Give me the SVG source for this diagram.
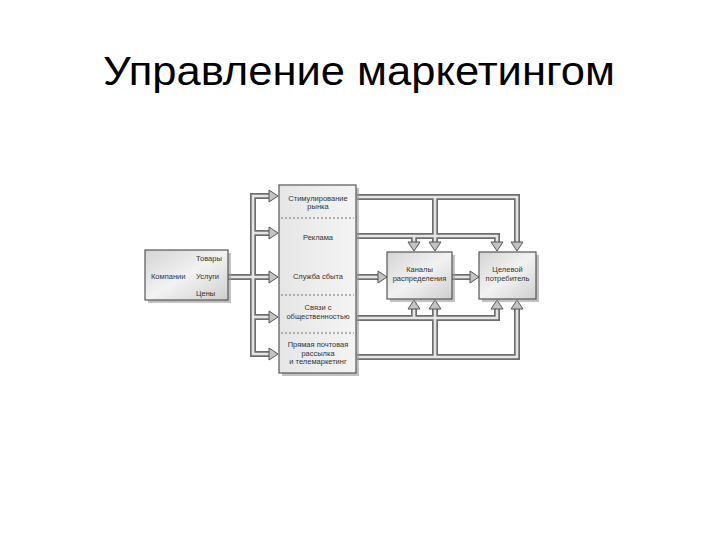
<svg xmlns="http://www.w3.org/2000/svg" width="720" height="540" viewBox="0 0 720 540">
<defs>
<linearGradient id="bg" x1="0" y1="0" x2="1" y2="1">
<stop offset="0" stop-color="#d4d4d4"/>
<stop offset="0.5" stop-color="#f2f2f2"/>
<stop offset="1" stop-color="#cfcfcf"/>
</linearGradient>
<linearGradient id="tg" x1="0" y1="0" x2="1" y2="0">
<stop offset="0" stop-color="#e6e6e6"/>
<stop offset="1" stop-color="#f4f4f4"/>
</linearGradient>
</defs>
<style>
.title{font-family:"Liberation Sans",Arial,sans-serif;font-size:40px;fill:#000}
.t{font-family:"Liberation Sans",Arial,sans-serif;font-size:7.5px;fill:#333}
.box{stroke:#555;stroke-width:1.2}
.sh{fill:#9a9a9a;opacity:0.6}
.po{fill:none;stroke:#6e6e6e;stroke-width:6;stroke-linejoin:miter}
.pi{fill:none;stroke:#e6e6e6;stroke-width:2.6;stroke-linejoin:miter}
.ah{fill:#c4c4c4;stroke:#555;stroke-width:1}
.dv{stroke:#555;stroke-width:0.8;stroke-dasharray:2,2}
</style>
<text class="title" x="103" y="85" textLength="512" lengthAdjust="spacingAndGlyphs">Управление маркетингом</text>

<g id="connectors">
<g id="pipes-outer" class="po">
<path d="M269,196 H253 V354 H269"/>
<path d="M253,233 H269"/>
<path d="M228,277 H269"/>
<path d="M253,317 H269"/>
<path d="M357,197 H517 V242"/>
<path d="M435,197 V242"/>
<path d="M357,236 H497 V242"/>
<path d="M414,236 V242"/>
<path d="M357,277 H378"/>
<path d="M452,277 H470"/>
<path d="M357,318 H497 V309"/>
<path d="M414,318 V309"/>
<path d="M357,357 H517 V309"/>
<path d="M435,357 V309"/>
</g>
<g id="pipes-inner" class="pi">
<path d="M270,196 H253 V354 H270"/>
<path d="M253,233 H270"/>
<path d="M228,277 H270"/>
<path d="M253,317 H270"/>
<path d="M357,197 H517 V243"/>
<path d="M435,197 V243"/>
<path d="M357,236 H497 V243"/>
<path d="M414,236 V243"/>
<path d="M357,277 H379"/>
<path d="M452,277 H471"/>
<path d="M357,318 H497 V308"/>
<path d="M414,318 V308"/>
<path d="M357,357 H517 V308"/>
<path d="M435,357 V308"/>
</g>
<g id="arrowheads" class="ah">
<polygon points="269,190 278,196 269,202"/>
<polygon points="269,227 278,233 269,239"/>
<polygon points="269,271 278,277 269,283"/>
<polygon points="269,311 278,317 269,323"/>
<polygon points="269,348 278,354 269,360"/>
<polygon points="378,271 387,277 378,283"/>
<polygon points="470,271 479,277 470,283"/>
<polygon points="408,242 420,242 414,251"/>
<polygon points="429,242 441,242 435,251"/>
<polygon points="491,242 503,242 497,251"/>
<polygon points="511,242 523,242 517,251"/>
<polygon points="408,309 420,309 414,300"/>
<polygon points="429,309 441,309 435,300"/>
<polygon points="491,309 503,309 497,300"/>
<polygon points="511,309 523,309 517,300"/>
</g>
</g>

<g id="companies">
<rect class="sh" x="148" y="253" width="83" height="50"/>
<rect class="box" x="145" y="250" width="83" height="50" fill="url(#bg)"/>
<text class="t" x="151" y="279">Компании</text>
<text class="t" x="196" y="261">Товары</text>
<text class="t" x="196" y="279">Услуги</text>
<text class="t" x="196" y="296">Цены</text>
</g>

<g id="promotion">
<rect class="sh" x="282" y="188" width="77" height="188"/>
<rect class="box" x="279" y="185" width="77" height="188" fill="url(#tg)"/>
<line class="dv" x1="281" y1="218" x2="354" y2="218"/>
<line class="dv" x1="281" y1="295" x2="354" y2="295"/>
<line class="dv" x1="281" y1="333" x2="354" y2="333"/>
<text class="t" x="318" y="201" text-anchor="middle">Стимулирование</text>
<text class="t" x="318" y="209" text-anchor="middle">рынка</text>
<text class="t" x="318" y="240" text-anchor="middle">Реклама</text>
<text class="t" x="318" y="279" text-anchor="middle">Служба сбыта</text>
<text class="t" x="318" y="310" text-anchor="middle">Связи с</text>
<text class="t" x="318" y="319" text-anchor="middle">общественностью</text>
<text class="t" x="318" y="347" text-anchor="middle">Прямая почтовая</text>
<text class="t" x="318" y="356" text-anchor="middle">рассылка</text>
<text class="t" x="318" y="364" text-anchor="middle">и телемаркетинг</text>
</g>

<g id="channels">
<rect class="sh" x="390" y="255" width="65" height="47"/>
<rect class="box" x="387" y="252" width="65" height="47" fill="url(#bg)"/>
<text class="t" x="419.5" y="272" text-anchor="middle">Каналы</text>
<text class="t" x="419.5" y="281" text-anchor="middle">распределения</text>
</g>

<g id="target">
<rect class="sh" x="482" y="255" width="57" height="47"/>
<rect class="box" x="479" y="252" width="57" height="47" fill="url(#bg)"/>
<text class="t" x="507.5" y="272" text-anchor="middle">Целевой</text>
<text class="t" x="507.5" y="281" text-anchor="middle">потребитель</text>
</g>
</svg>
